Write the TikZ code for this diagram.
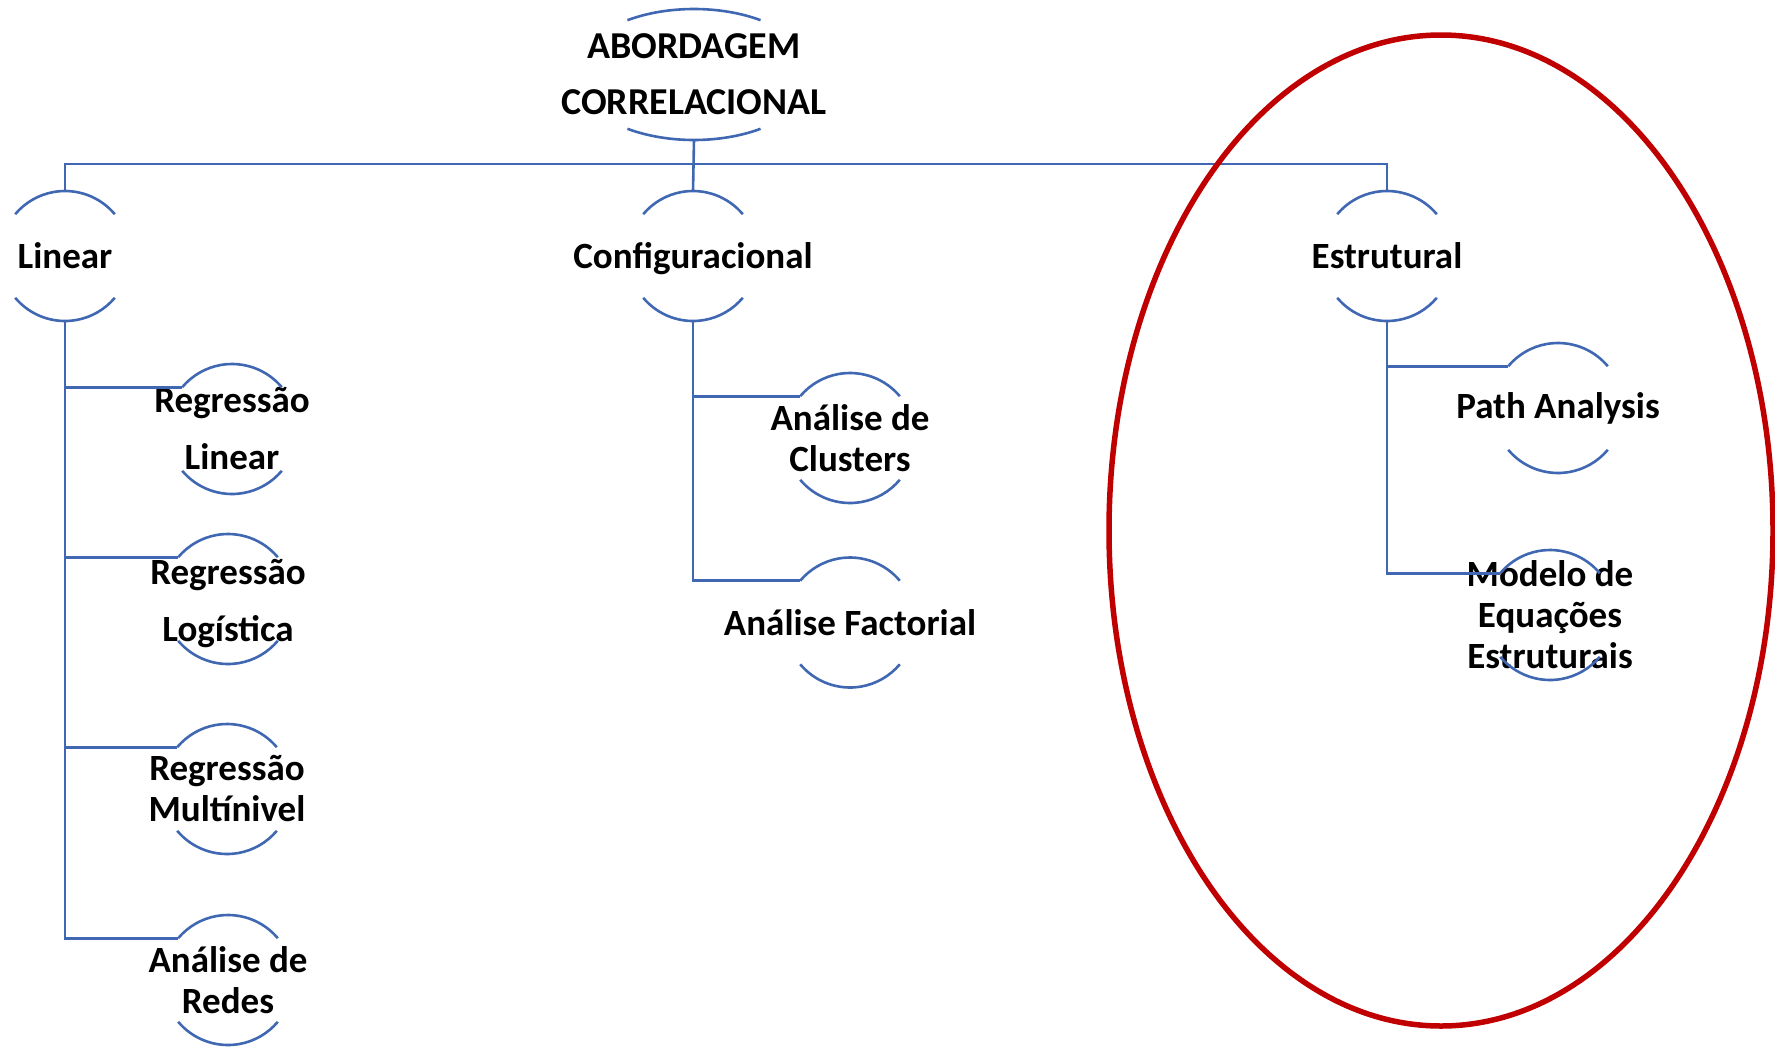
\documentclass[tikz,border=0pt]{standalone}
\usepackage{fontspec}
\setmainfont{Carlito}
\definecolor{lineblue}{HTML}{3F67B2}
\definecolor{ringred}{HTML}{C00000}
\tikzset{
  arcline/.style={draw=lineblue,line width=2.6pt},
  conn/.style={draw=lineblue,line width=2.6pt},
  lbl/.style={inner sep=0pt,align=center,font=\bfseries\fontsize{37}{41}\selectfont},
  wide/.style={font=\bfseries\fontsize{37}{57}\selectfont},
  rootlbl/.style={inner sep=0pt,align=center,font=\bfseries\fontsize{38}{56}\selectfont},
  redring/.style={draw=ringred,line width=5.5pt}
}
\newcommand\ringitem[5]{%
  \coordinate (#1) at (#2,-#3);
  \node[lbl,#5] (#1-t) at (#1) {#4};
  \draw[arcline] ([shift={(40:65)}]#1) arc[start angle=40,end angle=140,radius=65] coordinate (#1-in);
  \draw[arcline] ([shift={(220:65)}]#1) arc[start angle=220,end angle=320,radius=65];
  \coordinate (#1-top) at ([shift={(0,65)}]#1);
  \coordinate (#1-bot) at ([shift={(0,-65)}]#1);
}
\begin{document}
\begin{tikzpicture}[x=1pt,y=1pt]
\useasboundingbox (0,0) rectangle (1775,-1047);
% root
\coordinate (root) at (694,-74.5);
\node[rootlbl] (root-t) at (root) {ABORDAGEM\\CORRELACIONAL};
\draw[arcline] ([shift={(56:119 and 65.5)}]root) arc[start angle=56,end angle=124,x radius=119,y radius=65.5];
\draw[arcline] ([shift={(236:119 and 65.5)}]root) arc[start angle=236,end angle=304,x radius=119,y radius=65.5];
\coordinate (root-bot) at ([shift={(0,-65.5)}]root);
% level 1
\ringitem{lin}{65}{256}{Linear}{}
\ringitem{conf}{693}{256}{Configuracional}{yshift=-2.5pt}
\ringitem{estr}{1387}{256}{Estrutural}{}
% level 2
\ringitem{rlin}{232}{429}{Regressão\\Linear}{wide}
\ringitem{rlog}{228}{599}{Regressão\\Logística}{wide,yshift=-5pt}
\ringitem{rmul}{227}{789}{Regressão\\Multínivel}{}
\ringitem{red}{228}{980}{Análise de\\Redes}{}
\ringitem{clu}{850}{438}{Análise de\\Clusters}{}
\ringitem{fac}{850}{622.5}{Análise Factorial}{}
\ringitem{path}{1558}{408}{Path Analysis}{}
\ringitem{sem}{1550}{615}{Modelo de\\Equações\\Estruturais}{}
% connectors
\coordinate (bus) at (694,-164);
\draw[conn] (root-bot) -- (conf-top);
\draw[conn] (lin-top) |- (bus) -| (estr-top);
\draw[conn] (lin-bot) |- (rlin-in);
\draw[conn] (lin-bot) |- (rlog-in);
\draw[conn] (lin-bot) |- (rmul-in);
\draw[conn] (lin-bot) |- (red-in);
\draw[conn] (conf-bot) |- (clu-in);
\draw[conn] (conf-bot) |- (fac-in);
\draw[conn] (estr-bot) |- (path-in);
\draw[conn] (estr-bot) |- (sem-in);
% highlight
\draw[redring] (1441,-530.5) ellipse[x radius=332,y radius=495.5];
\end{tikzpicture}
\end{document}
